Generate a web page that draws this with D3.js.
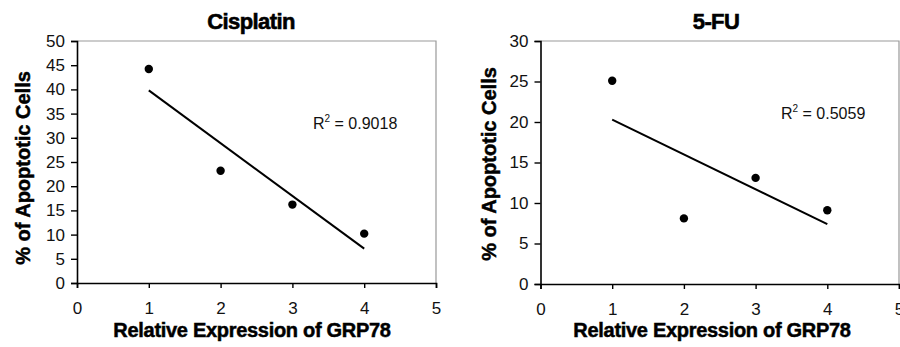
<!DOCTYPE html>
<html>
<head>
<meta charset="utf-8">
<script src="https://cdn.jsdelivr.net/npm/d3@7"></script>
<style>
  body { margin: 0; background: #fff; }
  svg { display: block; font-family: "Liberation Sans", Arial, sans-serif; }
</style>
</head>
<body>
<div id="chart"></div>
<script>
// data
var expression = [1, 2, 3, 4];
var cisplatin = [44.2, 23.2, 16.2, 10.2];
var fiveFU = [25.1, 8.1, 13.1, 9.1];
var xTicks = [0, 1, 2, 3, 4, 5];
var cisTicks = [0, 5, 10, 15, 20, 25, 30, 35, 40, 45, 50];
var fuTicks = [0, 5, 10, 15, 20, 25, 30];
var titles = ["Cisplatin", "5-FU"];
var r2Labels = ["0.9018", "0.5059"];

var width = 900, height = 347;

var svg = d3.select("#chart")
  .append("svg")
    .attr("width", width)
    .attr("height", height);

// least squares fit for the trend line
function fit(xs, ys) {
  var mx = d3.mean(xs), my = d3.mean(ys);
  var sxy = d3.sum(xs, (x, i) => (x - mx) * (ys[i] - my));
  var sxx = d3.sum(xs, x => (x - mx) * (x - mx));
  var b = sxy / sxx;
  return { slope: b, icpt: my - b * mx };
}

function panel(opt) {
  var g = svg.append("g");

  var x = d3.scaleLinear().domain([0, 5]).range([opt.left, opt.right]);
  var y = d3.scaleLinear().domain([0, opt.ymax]).range([opt.bottom, opt.top]);

  // gray frame (top + right)
  g.append("path")
    .attr("d", `M${opt.left},${opt.top}H${opt.right}V${opt.bottom}`)
    .attr("fill", "none")
    .attr("stroke", "#999")
    .attr("stroke-width", 1.2);

  var xAxis = g.append("g")
    .attr("transform", `translate(0,${opt.bottom})`)
    .call(d3.axisBottom(x).tickValues(xTicks).tickFormat(d3.format("d")).tickSizeOuter(0).tickSize(5).tickPadding(14));

  var yAxis = g.append("g")
    .attr("transform", `translate(${opt.left},0)`)
    .call(d3.axisLeft(y).tickValues(opt.yTicks).tickFormat(d3.format("d")).tickSizeOuter(0).tickSize(6).tickPadding(6));

  [xAxis, yAxis].forEach(a => {
    a.select(".domain").attr("stroke", "#000").attr("stroke-width", 1.6);
    a.selectAll(".tick line").attr("stroke", "#000").attr("stroke-width", 1.4);
    a.selectAll("text")
      .attr("fill", "#111")
      .style("font-size", "17px")
      .style("font-family", "'Liberation Sans', Arial, sans-serif");
  });

  // trend line
  var f = fit(expression, opt.values);
  var x0 = d3.min(expression), x1 = d3.max(expression);
  g.append("line")
    .attr("x1", x(x0)).attr("y1", y(f.icpt + f.slope * x0))
    .attr("x2", x(x1)).attr("y2", y(f.icpt + f.slope * x1))
    .attr("stroke", "#000")
    .attr("stroke-width", 2);

  g.selectAll("circle")
    .data(opt.values)
    .join("circle")
      .attr("cx", (d, i) => x(expression[i]))
      .attr("cy", d => y(d))
      .attr("r", 4.2)
      .attr("fill", "#000");

  // R squared label
  var r2 = g.append("text")
    .attr("x", opt.r2x)
    .attr("y", opt.r2y)
    .style("font-size", "16px")
    .attr("fill", "#111");
  r2.append("tspan").text("R");
  r2.append("tspan").attr("dy", -7).style("font-size", "10px").text("2");
  r2.append("tspan").attr("dy", 7).text(" = " + opt.r2);

  g.append("text")
    .attr("x", opt.titleX)
    .attr("y", 29)
    .attr("text-anchor", "middle")
    .style("font-size", "22px")
    .style("font-weight", "bold")
    .style("letter-spacing", "-0.6px")
    .attr("stroke", "#000")
    .attr("stroke-width", 0.6)
    .text(opt.title);

  g.append("text")
    .attr("transform", `translate(${opt.ylabX},${opt.ylabY}) rotate(-90)`)
    .attr("text-anchor", "middle")
    .style("font-size", "20px")
    .style("font-weight", "bold")
    .attr("stroke", "#000")
    .attr("stroke-width", 0.5)
    .text("% of Apoptotic Cells");

  g.append("text")
    .attr("x", opt.xlabX)
    .attr("y", 337)
    .attr("text-anchor", "middle")
    .style("font-size", "20px")
    .style("font-weight", "bold")
    .style("letter-spacing", "-0.3px")
    .attr("stroke", "#000")
    .attr("stroke-width", 0.5)
    .text("Relative Expression of GRP78");
}

panel({
  left: 77, right: 436, top: 41, bottom: 283,
  ymax: 50, yTicks: cisTicks, values: cisplatin,
  title: titles[0], titleX: 251, r2: r2Labels[0], r2x: 313, r2y: 129,
  ylabX: 30, ylabY: 168, xlabX: 252
});

panel({
  left: 540.5, right: 899, top: 41, bottom: 284,
  ymax: 30, yTicks: fuTicks, values: fiveFU,
  title: titles[1], titleX: 716, r2: r2Labels[1], r2x: 781, r2y: 119,
  ylabX: 496, ylabY: 164, xlabX: 712
});
</script>
</body>
</html>
